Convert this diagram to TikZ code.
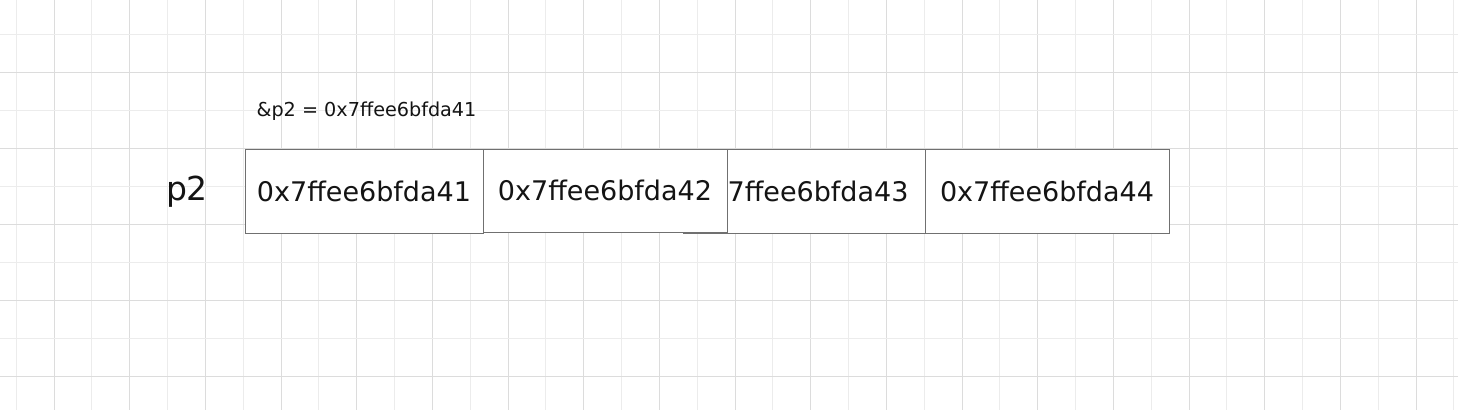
\documentclass[tikz,border=0pt]{standalone}
\usepackage{fontspec}
\setmainfont{DejaVu Sans}
\definecolor{gridminor}{RGB}{236,236,236}
\definecolor{gridmajor}{RGB}{220,220,220}
\definecolor{boxline}{RGB}{112,112,112}
\definecolor{txt}{RGB}{20,20,20}
\tikzset{
  cell/.style={draw=boxline, line width=1pt, fill=white, inner sep=0pt,
    minimum height=84pt, text=txt, font=\fontsize{27}{32}\selectfont},
  celltext/.style={inner sep=0pt, text=txt, font=\fontsize{27}{32}\selectfont},
  bigname/.style={inner sep=0pt, text=txt, font=\fontsize{33}{38}\selectfont},
  addr/.style={inner sep=0pt, text=txt, font=\fontsize{19.2}{22}\selectfont},
}
\begin{document}
\begin{tikzpicture}[x=1pt,y=-1pt]
\useasboundingbox (0,0) rectangle (1458,410);
\fill[white] (0,0) rectangle (1458,410);
% grid
\foreach \k in {0,...,38}{
  \pgfmathsetmacro{\xx}{16.3+37.83*\k}
  \ifodd\k
    \draw[gridmajor, line width=1pt] (\xx,0) -- (\xx,410);
  \else
    \draw[gridminor, line width=1pt] (\xx,0) -- (\xx,410);
  \fi
}
\foreach \k in {0,...,9}{
  \pgfmathsetmacro{\yy}{34+38*\k}
  \ifodd\k
    \draw[gridmajor, line width=1pt] (0,\yy) -- (1458,\yy);
  \else
    \draw[gridminor, line width=1pt] (0,\yy) -- (1458,\yy);
  \fi
}
% labels
\node[addr] (addr) at (366.5,111) {\&p2 = 0x7ffee6bfda41};
\node[bigname] (name) at (187,192) {p2};
% cells
\node[cell, minimum width=238pt] (b1) at (364,191) {0x7ffee6bfda41};
\node[cell, minimum width=242pt] (b3) at (804,191) {};
\node[celltext] (t3) at (801.5,191) {0x7ffee6bfda43};
\node[cell, minimum width=244pt, minimum height=83pt] (b2) at (605,190.5) {0x7ffee6bfda42};
\node[cell, minimum width=244pt] (b4) at (1047,191) {0x7ffee6bfda44};
\end{tikzpicture}
\end{document}
